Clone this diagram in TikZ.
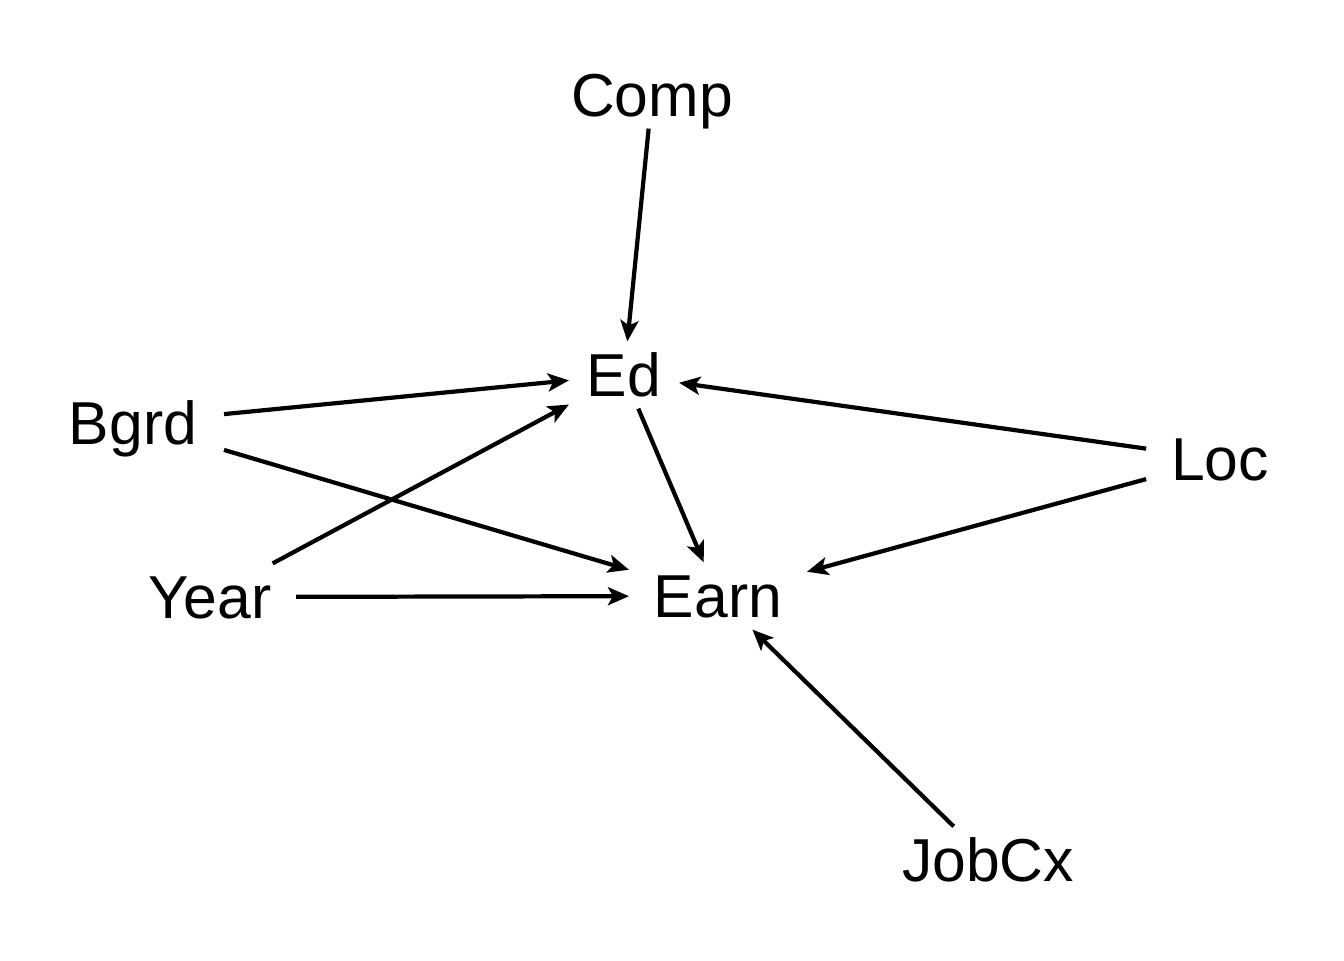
\documentclass[tikz,border=0pt]{standalone}
\usepackage{fontspec}
\setmainfont{Liberation Sans}
\usetikzlibrary{arrows.meta}
\begin{document}
\begin{tikzpicture}[x=0.02cm,y=-0.02cm,
  var/.style={font=\fontsize{34.5}{40}\selectfont, text height=24.6pt, text depth=0pt,
    inner xsep=0.5cm, inner ysep=0.24cm, outer sep=0pt},
  edge/.style={line width=2.4pt, -{Stealth[length=0.42cm,width=0.36cm,inset=0.1cm]}}]
\useasboundingbox (0,0) rectangle (1344,960);
\node[var] (comp) at (652,95) {Comp};
\node[var, inner xsep=0.36cm] (ed) at (624,375) {Ed};
\node[var, inner xsep=0.54cm] (bgrd) at (133,423) {Bgrd};
\node[var] (loc) at (1220,459) {Loc};
\node[var] (year) at (210,597) {Year};
\node[var] (earn) at (718,596) {Earn};
\node[var] (jobcx) at (988,860) {JobCx};
\draw[edge] (comp) -- (ed);
\draw[edge] (bgrd) -- (ed);
\draw[edge] (bgrd) -- (earn);
\draw[edge] (year) -- (ed);
\draw[edge] (year) -- (earn);
\draw[edge] (ed) -- (earn);
\draw[edge] (loc) -- (ed);
\draw[edge] (loc) -- (earn);
\draw[edge] (jobcx) -- (earn);
\end{tikzpicture}
\end{document}
